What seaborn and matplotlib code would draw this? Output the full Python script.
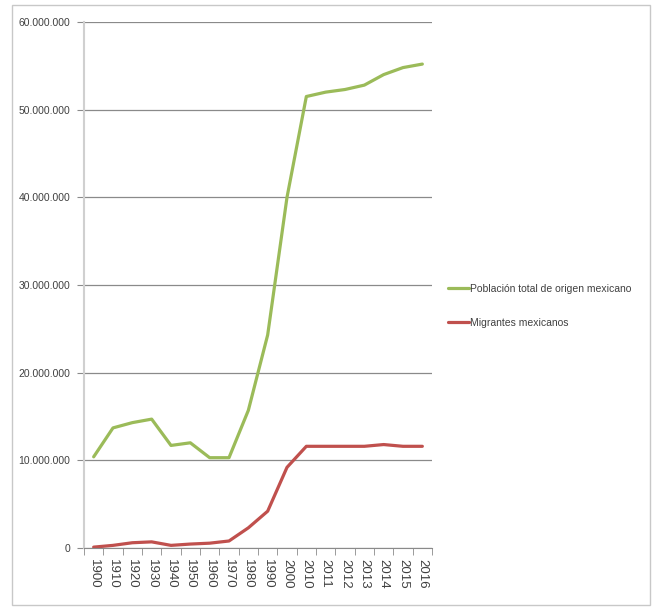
import matplotlib
matplotlib.use("Agg")
import matplotlib.pyplot as plt
import matplotlib.ticker as mticker
from matplotlib.patches import Rectangle
import seaborn as sns
import pandas as pd

years = ["1900", "1910", "1920", "1930", "1940", "1950", "1960", "1970", "1980",
         "1990", "2000", "2010", "2011", "2012", "2013", "2014", "2015", "2016"]
poblacion_total = [10.4, 13.7, 14.3, 14.7, 11.7, 12.0, 10.3, 10.3, 15.7,
                   24.3, 40.0, 51.5, 52.0, 52.3, 52.8, 54.0, 54.8, 55.2]
migrantes = [0.1, 0.3, 0.6, 0.7, 0.3, 0.45, 0.55, 0.8, 2.3,
             4.2, 9.2, 11.6, 11.6, 11.6, 11.6, 11.8, 11.6, 11.6]
labels = ["Población total de origen mexicano", "Migrantes mexicanos"]
colors = ["#9BBB59", "#C0504D"]

df = pd.DataFrame({
    "year": years * 2,
    "value": [v * 1e6 for v in poblacion_total] + [v * 1e6 for v in migrantes],
    "serie": [labels[0]] * len(years) + [labels[1]] * len(years),
})

sns.set_style("white")
plt.rcParams['font.family'] = ['Liberation Sans', 'DejaVu Sans']

fig = plt.figure(figsize=(6.56, 6.10), dpi=100)
ax = fig.add_axes([84 / 656, 1 - 548 / 610, (432 - 84) / 656, (548 - 22) / 610])

sns.lineplot(data=df, x="year", y="value", hue="serie", palette=colors,
             linewidth=2.3, ax=ax, sort=False)

ax.set_xlim(-0.5, len(years) - 0.5)
ax.set_ylim(0, 60e6)
ax.yaxis.set_major_locator(mticker.MultipleLocator(10e6))
ax.yaxis.set_major_formatter(mticker.FuncFormatter(
    lambda v, p: f"{int(v):,}".replace(",", ".")))
ax.grid(axis="y", color="#8a8a8a", linewidth=0.9)
ax.set_axisbelow(True)
ax.set_xlabel("")
ax.set_ylabel("")

for s in ["top", "right"]:
    ax.spines[s].set_visible(False)
ax.spines["left"].set_color("#d0d0d0")
ax.spines["left"].set_linewidth(1.5)
ax.spines["bottom"].set_color("#8a8a8a")

ax.set_xticks(range(len(years)))
ax.set_xticklabels(years, rotation=270, fontsize=9.5, color="#404040")
ax.set_xticks([i - 0.5 for i in range(len(years) + 1)], minor=True)
ax.tick_params(axis="x", which="major", length=0, pad=8)
ax.tick_params(axis="x", which="minor", length=5, color="#8a8a8a", direction="out", bottom=True)
ax.tick_params(axis="y", length=5, color="#8a8a8a", direction="out", left=True,
               labelsize=7.5, labelcolor="#404040", pad=5)

leg = ax.legend(loc="center left", bbox_to_anchor=(1.02, 0.46), frameon=False,
                fontsize=7.5, handlelength=2.0, handletextpad=0.1, labelspacing=2.3)
for t in leg.get_texts():
    t.set_color("#404040")

fig.patches.append(Rectangle((12 / 656, 5 / 610), (650 - 12) / 656, (605 - 5) / 610,
                             transform=fig.transFigure, fill=False,
                             edgecolor="#c8c8c8", linewidth=1))

fig.savefig("out.png", dpi=100)
